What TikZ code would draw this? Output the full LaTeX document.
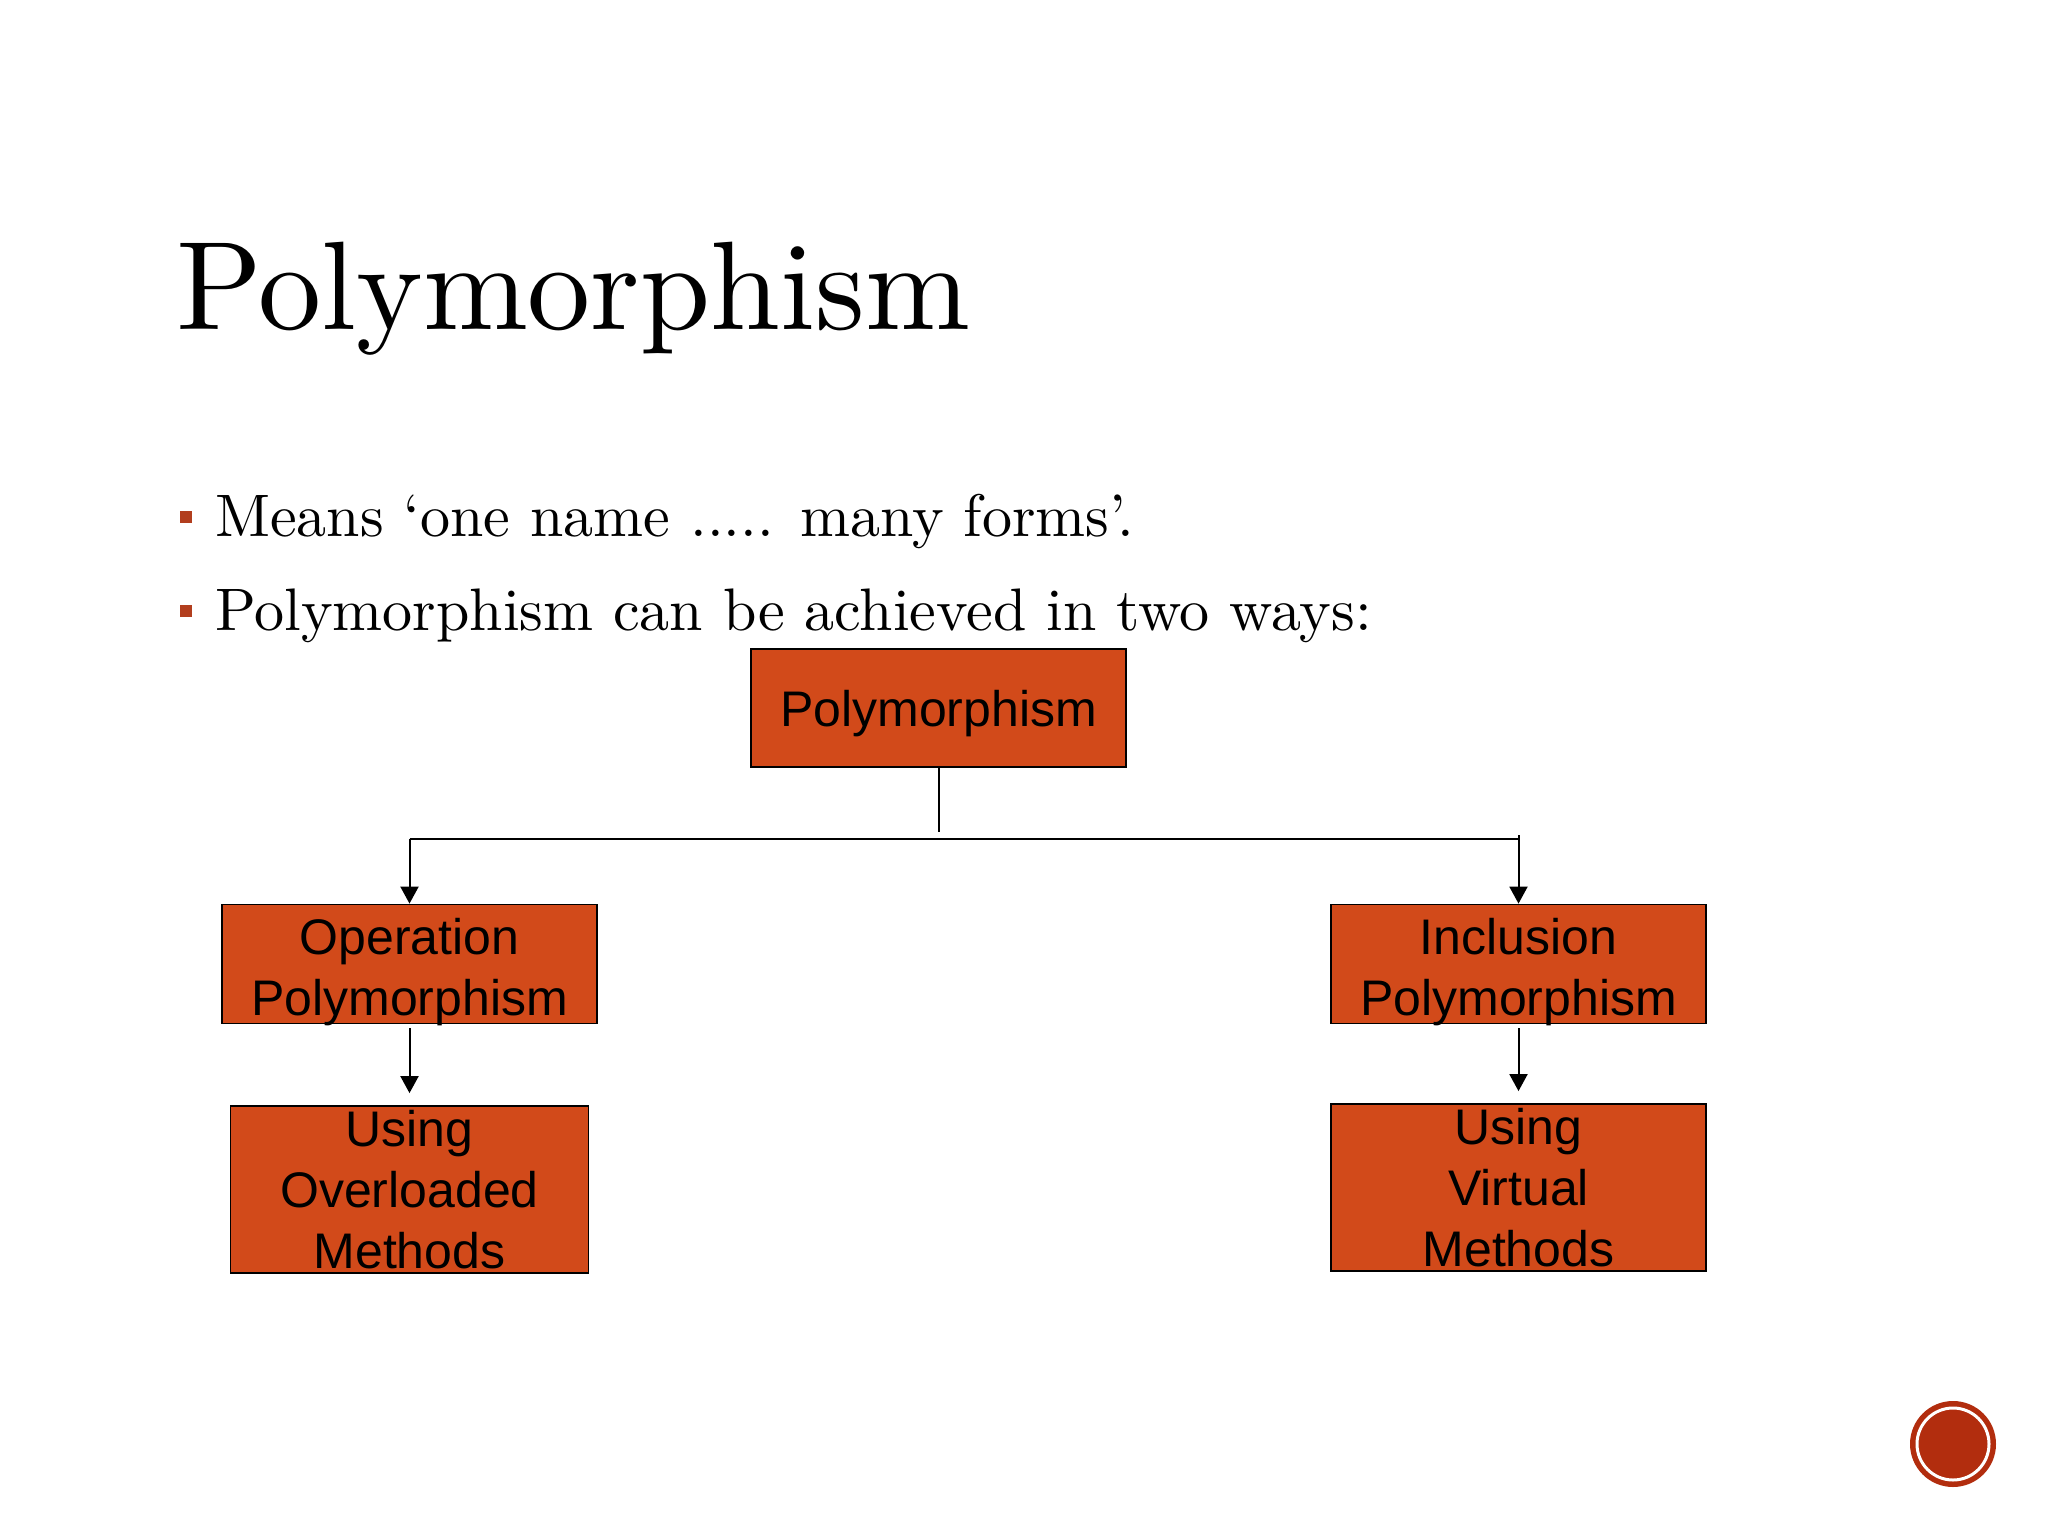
\documentclass[tikz,border=0pt]{standalone}
\usepackage{fontspec}
\setmainfont{lmroman10-regular}[Extension=.otf]
\newfontfamily\boxfont{Liberation Sans}
\usetikzlibrary{arrows.meta}
\definecolor{boxfill}{RGB}{210,74,26}
\definecolor{bulcol}{RGB}{178,62,30}
\definecolor{circcol}{RGB}{178,45,14}
\tikzset{
  pbox/.style={draw=black, line width=1.8pt, fill=boxfill, rectangle, inner sep=0pt},
  ptext/.style={inner sep=0pt, align=center, font=\boxfont\fontsize{50}{61}\selectfont, text=black},
  conn/.style={draw=black, line width=2pt},
  arr/.style={conn, -{Triangle[length=17pt,width=18pt]}},
  bullet/.style={anchor=base west, inner sep=0pt, font=\fontsize{60}{72}\selectfont},
}
\begin{document}
\begin{tikzpicture}[x=1pt,y=-1pt]
\useasboundingbox[fill=white] (0,0) rectangle (2048,1536);
% title
\node[anchor=base west, inner sep=0pt, font=\fontsize{126}{150}\selectfont] (title) at (176,329) {Polymorphism};
% bullets
\fill[bulcol] (180,511) rectangle (192,523);
\fill[bulcol] (180,605) rectangle (192,617);
\node[bullet] (b1) at (215,536) {Means ‘one name ..... many forms’.};
\node[bullet] (b2) at (215,630) {Polymorphism can be achieved in two ways:};
% boxes
\node[pbox, minimum width=375pt, minimum height=118pt] (top) at (938.5,708) {};
\node[pbox, minimum width=375pt, minimum height=119pt] (op) at (409.5,964) {};
\node[pbox, minimum width=375pt, minimum height=119pt] (inc) at (1518.5,964) {};
\node[pbox, minimum width=358pt, minimum height=167pt] (ovl) at (409.5,1189.5) {};
\node[pbox, minimum width=375pt, minimum height=167pt] (vir) at (1518.5,1187.5) {};
% box texts
\node[ptext, yshift=-6pt] (topt) at (top.center) {Polymorphism};
\node[ptext, yshift=-8pt] (opt) at (op.center) {Operation\\Polymorphism};
\node[ptext, yshift=-8pt] (inct) at (inc.center) {Inclusion\\Polymorphism};
\node[ptext] (ovlt) at (ovl.center) {Using\\Overloaded\\Methods};
\node[ptext] (virt) at (vir.center) {Using\\Virtual\\Methods};
% connectors
\coordinate (stem) at (938.5,832);
\coordinate (barL) at (409.5,838.5);
\coordinate (barR) at (1518.5,838.5);
\coordinate (barRtop) at (1518.5,835);
\draw[conn] (top.south) -- (stem);
\draw[conn] (barL) -- (barR);
\draw[arr] (barL) -- (op.north);
\draw[arr] (barRtop) -- (inc.north);
\draw[arr, shorten <=4pt, shorten >=12pt] (op.south) -- (ovl.north);
\draw[arr, shorten <=4pt, shorten >=12pt] (inc.south) -- (vir.north);
% corner emblem
\fill[circcol] (1953,1444) circle[radius=43pt];
\draw[white, line width=3pt] (1953,1444) circle[radius=36pt];
\end{tikzpicture}
\end{document}
